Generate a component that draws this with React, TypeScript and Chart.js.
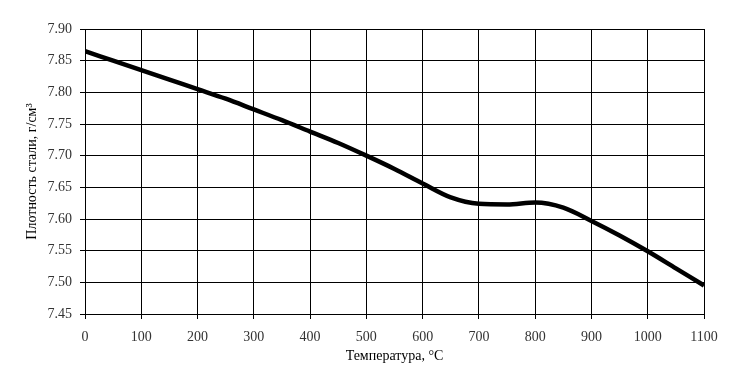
import React, { useEffect, useRef } from "react";
import { Chart, registerables } from "chart.js";

Chart.register(...registerables);

const temperatures = [0, 50, 100, 150, 200, 250, 300, 350, 400, 450, 500, 550, 600, 650, 700, 750, 800, 850, 900, 950, 1000, 1050, 1100];
const density = [7.865, 7.850, 7.835, 7.820, 7.805, 7.790, 7.773, 7.756, 7.738, 7.720, 7.700, 7.679, 7.656, 7.634, 7.624, 7.623, 7.626, 7.618, 7.597, 7.574, 7.549, 7.522, 7.495];

const xTitle = "Температура, °С";
const yTitle = "Плотность стали, г/см³";

export default function App() {
  const ref = useRef<HTMLCanvasElement>(null);
  useEffect(() => {
    if (!ref.current) return;
    const font = "'Liberation Serif', 'Times New Roman', serif";
    const chart = new Chart(ref.current, {
      type: "line",
      data: {
        datasets: [
          {
            data: temperatures.map((t, i) => ({ x: t, y: density[i] })),
            borderColor: "#000",
            borderWidth: 4.5,
            pointRadius: 0,
            cubicInterpolationMode: "monotone",
            fill: false,
          },
        ],
      },
      options: {
        animation: false,
        responsive: false,
        maintainAspectRatio: false,
        layout: { padding: { top: 29, right: 33, left: 24, bottom: 27 } },
        plugins: { legend: { display: false }, tooltip: { enabled: false } },
        scales: {
          x: {
            type: "linear",
            min: 0,
            max: 1100,
            afterFit: (s: any) => { s.height = 51; },
            ticks: {
              stepSize: 100,
              color: "#333",
              font: { family: font, size: 14 },
              padding: 10,
              maxRotation: 0,
              callback: (v: any) => String(v),
            },
            grid: { color: "#000", lineWidth: 1, tickLength: 5, drawTicks: true },
            border: { color: "#000", width: 1 },
            title: { display: true, text: xTitle, color: "#000", font: { family: font, size: 14 }, padding: 0 },
          },
          y: {
            type: "linear",
            min: 7.45,
            max: 7.9,
            afterFit: (s: any) => { s.width = 61; },
            ticks: {
              stepSize: 0.05,
              color: "#333",
              font: { family: font, size: 14 },
              padding: 8,
              callback: (v: any) => Number(v).toFixed(2),
            },
            grid: { color: "#000", lineWidth: 1, tickLength: 5, drawTicks: true },
            border: { color: "#000", width: 1 },
            title: { display: true, text: yTitle, color: "#000", font: { family: font, size: 14 }, padding: 0 },
          },
        },
      },
    });
    return () => chart.destroy();
  }, []);
  return (
    <div style={{ position: "fixed", left: 0, top: 0, width: 737, height: 392, background: "#fff" }}>
      <canvas ref={ref} width={737} height={392} style={{ width: 737, height: 392 }} />
    </div>
  );
}
